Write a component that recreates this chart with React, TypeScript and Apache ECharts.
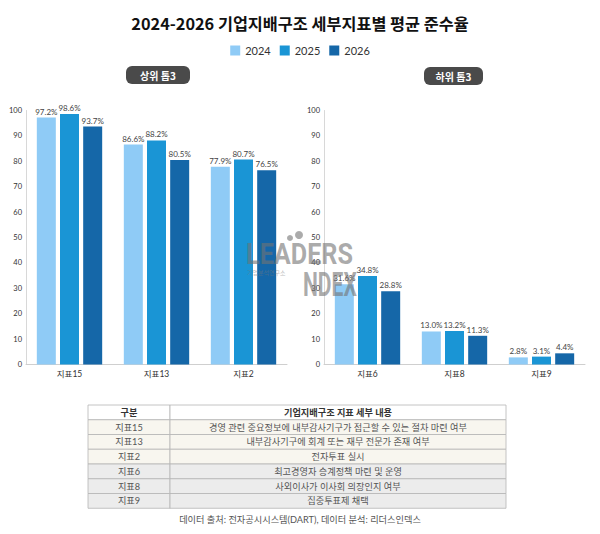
import React, { useEffect, useRef } from "react";
import * as echarts from "echarts";

const years = ["2024", "2025", "2026"];
const colors = ["#8FCBF6", "#1A95D5", "#1567A8"];

const topCategories = ["지표15", "지표13", "지표2"];
const top2024 = [97.2, 86.6, 77.9];
const top2025 = [98.6, 88.2, 80.7];
const top2026 = [93.7, 80.5, 76.5];

const bottomCategories = ["지표6", "지표8", "지표9"];
const bottom2024 = [31.6, 13.0, 2.8];
const bottom2025 = [34.8, 13.2, 3.1];
const bottom2026 = [28.8, 11.3, 4.4];

const tableHeader = ["구분", "기업지배구조 지표 세부 내용"];
const tableCodes = ["지표15", "지표13", "지표2", "지표6", "지표8", "지표9"];
const tableDescs = [
  "경영 관련 중요정보에 내부감사기구가 접근할 수 있는 절차 마련 여부",
  "내부감사기구에 회계 또는 재무 전문가 존재 여부",
  "전자투표 실시",
  "최고경영자 승계정책 마련 및 운영",
  "사외이사가 이사회 의장인지 여부",
  "집중투표제 채택",
];

const titleText = "2024-2026 기업지배구조 세부지표별 평균 준수율";
const pillLabels = ["상위 톱3", "하위 톱3"];
const footerText = "데이터 출처: 전자공시시스템(DART), 데이터 분석: 리더스인덱스";
const watermarkTexts = ["LEADERS", "기업분석연구소", "NDEX"];

const FONT = "Lato, 'Noto Sans CJK KR', sans-serif";
const KFONT = "'Noto Sans CJK KR', sans-serif";
const WFONT = "Roboto, 'DejaVu Sans', sans-serif";
const WCOLOR = "rgba(115,115,115,0.6)";

export default function App() {
  const ref = useRef<HTMLDivElement>(null);

  useEffect(() => {
    document.body.style.margin = "0";
    if (!ref.current) return;
    const chart = echarts.init(ref.current, undefined, { renderer: "svg" });

    const topData = [top2024, top2025, top2026];
    const bottomData = [bottom2024, bottom2025, bottom2026];

    const makeSeries = (data: number[][], idx: number) =>
      data.map((vals, i) => ({
        name: years[i],
        type: "bar",
        xAxisIndex: idx,
        yAxisIndex: idx,
        data: vals,
        barWidth: 19,
        barGap: "22%",
        itemStyle: { color: colors[i] },
        label: {
          show: true,
          position: "top",
          distance: 2,
          formatter: (p: any) => Number(p.value).toFixed(1) + "%",
          fontFamily: FONT,
          fontSize: 8,
          color: "#444",
        },
      }));

    const xAxisBase = {
      type: "category",
      axisLine: { show: true, lineStyle: { color: "#cfcfcf", width: 1 } },
      axisTick: { show: false },
      axisLabel: { margin: 5, fontSize: 8.5, color: "#333", fontFamily: FONT },
    };
    const yAxisBase = {
      type: "value",
      min: 0,
      max: 100,
      interval: 10,
      axisLine: { show: true, lineStyle: { color: "#d8d8d8", width: 1 } },
      axisTick: { show: false },
      splitLine: { show: false },
      axisLabel: { margin: 4, fontSize: 7.5, color: "#333", fontFamily: FONT },
    };

    // table graphics
    const tX = 88;
    const tW = 418;
    const tDiv = 170;
    const tTop = 405;
    const rowH = 14.75;
    const tableEls: any[] = [];
    const rows = [tableHeader, ...tableCodes.map((c, i) => [c, tableDescs[i]])];
    rows.forEach((r, i) => {
      const y = tTop + i * rowH;
      const fill = i === 0 ? "#ffffff" : i <= 3 ? "#F8F6EF" : "#ECECEC";
      tableEls.push({
        type: "rect",
        shape: { x: tX, y, width: tDiv - tX, height: rowH },
        style: { fill, stroke: "#b5b5b5", lineWidth: 0.8 },
      });
      tableEls.push({
        type: "rect",
        shape: { x: tDiv, y, width: tX + tW - tDiv, height: rowH },
        style: { fill, stroke: "#b5b5b5", lineWidth: 0.8 },
      });
      tableEls.push({
        type: "text",
        x: (tX + tDiv) / 2,
        y: y + rowH / 2,
        style: {
          text: r[0],
          fill: i === 0 ? "#333" : "#555",
          font: `${i === 0 ? "bold " : ""}9.2px ${FONT}`,
          align: "center",
          verticalAlign: "middle",
        },
      });
      tableEls.push({
        type: "text",
        x: (tDiv + tX + tW) / 2,
        y: y + rowH / 2,
        style: {
          text: r[1],
          fill: i === 0 ? "#333" : "#555",
          font: `${i === 0 ? "bold " : ""}9.2px ${FONT}`,
          align: "center",
          verticalAlign: "middle",
        },
      });
    });

    const pills = [
      { x: 126, y: 66, w: 64, h: 18, t: pillLabels[0] },
      { x: 424, y: 67, w: 59, h: 18, t: pillLabels[1] },
    ];
    const pillEls: any[] = [];
    pills.forEach((p) => {
      pillEls.push({
        type: "rect",
        shape: { x: p.x, y: p.y, width: p.w, height: p.h, r: 6 },
        style: { fill: "#4a4a4a" },
      });
      pillEls.push({
        type: "text",
        x: p.x + p.w / 2,
        y: p.y + p.h / 2,
        style: {
          text: p.t,
          fill: "#fff",
          font: `bold 10px ${KFONT}`,
          align: "center",
          verticalAlign: "middle",
        },
      });
    });

    const watermarkEls: any[] = [
      {
        type: "text",
        z: 100,
        silent: true,
        x: 246,
        y: 254,
        scaleX: 0.87,
        style: {
          text: watermarkTexts[0],
          fill: WCOLOR,
          font: `bold 29px ${WFONT}`,
          align: "left",
          verticalAlign: "middle",
        },
      },
      {
        type: "text",
        z: 100,
        silent: true,
        x: 247,
        y: 272.5,
        style: {
          text: watermarkTexts[1],
          fill: "rgba(120,120,120,0.5)",
          font: `6px ${KFONT}`,
          align: "left",
          verticalAlign: "middle",
        },
      },
      {
        type: "text",
        z: 100,
        silent: true,
        x: 303,
        y: 285,
        scaleX: 0.62,
        style: {
          text: watermarkTexts[2],
          fill: WCOLOR,
          font: `bold 34px ${WFONT}`,
          align: "left",
          verticalAlign: "middle",
        },
      },
      { type: "circle", z: 100, silent: true, shape: { cx: 290, cy: 238, r: 3 }, style: { fill: WCOLOR } },
      { type: "circle", z: 100, silent: true, shape: { cx: 299, cy: 235, r: 4 }, style: { fill: WCOLOR } },
    ];

    chart.setOption({
      animation: false,
      backgroundColor: "#ffffff",
      title: {
        text: titleText,
        left: "center",
        top: 10,
        textStyle: { fontFamily: KFONT, fontWeight: "bold", fontSize: 16.3, color: "#111" },
      },
      legend: {
        data: years,
        top: 40,
        left: "center",
        icon: "rect",
        itemWidth: 10,
        itemHeight: 10,
        itemGap: 9,
        textStyle: { fontFamily: FONT, fontSize: 11, color: "#333" },
      },
      grid: [
        { left: 26, top: 110.5, width: 261, height: 254, containLabel: false },
        { left: 324, top: 110.5, width: 261, height: 254, containLabel: false },
      ],
      xAxis: [
        { ...xAxisBase, gridIndex: 0, data: topCategories },
        { ...xAxisBase, gridIndex: 1, data: bottomCategories },
      ],
      yAxis: [
        { ...yAxisBase, gridIndex: 0 },
        { ...yAxisBase, gridIndex: 1 },
      ],
      series: [...makeSeries(topData, 0), ...makeSeries(bottomData, 1)],
      graphic: [
        ...pillEls,
        ...tableEls,
        {
          type: "text",
          x: 300,
          y: 519,
          style: {
            text: footerText,
            fill: "#555",
            font: `9.2px ${FONT}`,
            align: "center",
            verticalAlign: "middle",
          },
        },
        ...watermarkEls,
      ],
    });

    return () => chart.dispose();
  }, []);

  return <div ref={ref} style={{ width: 600, height: 534 }} />;
}
